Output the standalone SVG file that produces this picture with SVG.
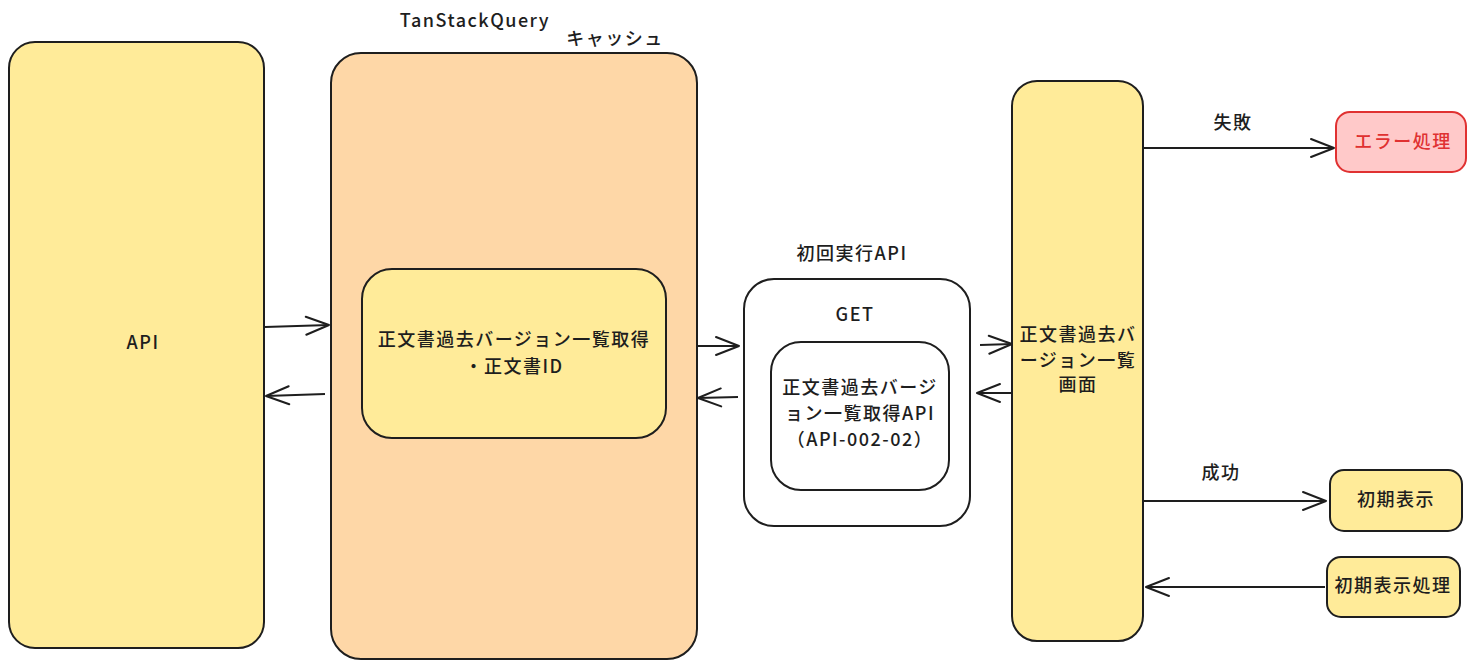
<svg xmlns="http://www.w3.org/2000/svg" width="1476" height="668" viewBox="0 0 1476 668">
<style>
.box{stroke:#1e1e1e;stroke-width:2}
.y{fill:#ffeb99}
.o{fill:#fed7a7}
.w{fill:#ffffff}
.r{fill:#ffc9c9;stroke:#e03131}
.t{font-family:"Noto Sans CJK JP","Noto Sans",sans-serif;font-size:18px;font-weight:500;fill:#1e1e1e;text-anchor:middle;letter-spacing:1.5px}
.rt{fill:#e03131}
.c{stroke:#1e1e1e;stroke-width:2;fill:none}
</style>
<defs>
<marker id="ah" markerWidth="30" markerHeight="24" refX="25" refY="12" orient="auto" markerUnits="userSpaceOnUse">
<path d="M2 3 L25 12 L2 21" fill="none" stroke="#1e1e1e" stroke-width="2" stroke-linecap="round" stroke-linejoin="round"/>
</marker>
</defs>
<rect width="1476" height="668" fill="#ffffff"/>
<g id="api">
<rect class="box y" x="9" y="42" width="255" height="606" rx="26"/>
<text class="t" x="143" y="349">API</text>
</g>
<g id="cache">
<rect class="box o" x="331" y="53" width="366" height="606" rx="30"/>
<text class="t" x="475" y="27">TanStackQuery</text>
<text class="t" x="615" y="45">キャッシュ</text>
</g>
<g id="cacheItem">
<rect class="box y" x="362" y="269" width="304" height="169" rx="30"/>
<text class="t" x="514" y="346">正文書過去バージョン一覧取得</text>
<text class="t" x="514" y="373">・正文書ID</text>
</g>
<g id="getOuter">
<rect class="box w" x="744" y="279" width="226" height="247" rx="30"/>
<text class="t" x="852" y="260">初回実行API</text>
<text class="t" x="855" y="321">GET</text>
</g>
<g id="getInner">
<rect class="box w" x="771" y="342" width="178" height="148" rx="30"/>
<text class="t" x="860" y="394">正文書過去バージ</text>
<text class="t" x="860" y="420">ョン一覧取得API</text>
<text class="t" x="860" y="446">（API-002-02）</text>
</g>
<g id="screen">
<rect class="box y" x="1012" y="81" width="131" height="560" rx="25"/>
<text class="t" x="1078" y="341">正文書過去バ</text>
<text class="t" x="1078" y="367">ージョン一覧</text>
<text class="t" x="1078" y="391">画面</text>
</g>
<g id="error">
<rect class="box r" x="1336" y="112" width="130" height="60" rx="14"/>
<text class="t rt" x="1403" y="148">エラー処理</text>
</g>
<g id="initDisplay">
<rect class="box y" x="1330" y="470" width="132" height="61" rx="14"/>
<text class="t" x="1396" y="506">初期表示</text>
</g>
<g id="initProcess">
<rect class="box y" x="1327" y="557" width="133" height="60" rx="14"/>
<text class="t" x="1393" y="592">初期表示処理</text>
</g>
<g id="connectors">
<path class="c" d="M265 327 L329 325" marker-end="url(#ah)"/>
<path class="c" d="M325 394 L266 396" marker-end="url(#ah)"/>
<path class="c" d="M698 346 L739 346" marker-end="url(#ah)"/>
<path class="c" d="M738 397 L698 398" marker-end="url(#ah)"/>
<path class="c" d="M980 345 L1012 344" marker-end="url(#ah)"/>
<path class="c" d="M1012 393 L977 393" marker-end="url(#ah)"/>
<path class="c" d="M1143 148 L1334 148" marker-end="url(#ah)"/>
<path class="c" d="M1143 501 L1326 501" marker-end="url(#ah)"/>
<path class="c" d="M1325 587 L1146 587" marker-end="url(#ah)"/>
<text class="t" x="1233" y="129">失敗</text>
<text class="t" x="1221" y="479">成功</text>
</g>
</svg>
